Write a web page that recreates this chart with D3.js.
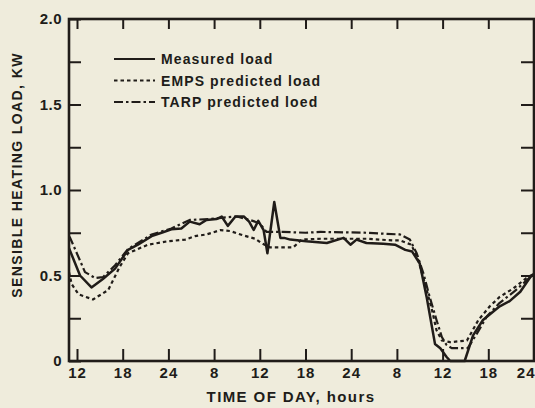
<!DOCTYPE html>
<html>
<head>
<meta charset="utf-8">
<script src="https://cdn.jsdelivr.net/npm/d3@7"></script>
<style>
  html, body { margin: 0; padding: 0; background: #efecdc; }
  svg { display: block; }
  text { font-family: "Liberation Sans", Arial, Helvetica, sans-serif; font-weight: bold; fill: #201c19; }
</style>
</head>
<body>
<svg id="chart" width="535" height="408"></svg>
<script>
// Hours elapsed from the first labelled tick (hour 12 of the first day)
const tickHours = [0, 6, 12, 18, 24, 30, 36, 42, 48, 54, 60];
const tickLabels = ["12", "18", "24", "8", "12", "18", "24", "8", "12", "18", "24"];
const yMajor = [0, 0.5, 1.0, 1.5, 2.0];
const yMajorLabels = ["0", "0.5", "1.0", "1.5", "2.0"];
const yMinor = [0.25, 0.75, 1.25, 1.75];

// Measured sensible heating load, kW: [hours, load]
const measuredLoad = [
  [-1.05, 0.66], [0.4, 0.50], [1.9, 0.43], [3.4, 0.48], [5.0, 0.54], [6.7, 0.65],
  [8.0, 0.68], [9.8, 0.73], [11.1, 0.75], [12.4, 0.77], [13.7, 0.775], [14.8, 0.815],
  [16.1, 0.80], [17.0, 0.825], [18.3, 0.83], [19.0, 0.845], [19.8, 0.79], [20.8, 0.845],
  [21.9, 0.845], [22.6, 0.815], [23.2, 0.766], [23.8, 0.82], [24.5, 0.766], [25.0, 0.63],
  [25.9, 0.93], [26.7, 0.72], [27.2, 0.72], [28.0, 0.71], [30.1, 0.70], [32.8, 0.69],
  [35.0, 0.72], [35.9, 0.68], [36.7, 0.71], [38.0, 0.69], [40.2, 0.685], [41.75, 0.68],
  [43.1, 0.65], [44.0, 0.64], [45.0, 0.57], [45.9, 0.375], [46.6, 0.20], [47.0, 0.10],
  [47.7, 0.075], [48.5, 0.025], [49.0, 0], [50.9, 0], [52.0, 0.15], [53.3, 0.24],
  [55.5, 0.32], [56.8, 0.35], [58.2, 0.405], [59.5, 0.49], [60, 0.51]
];

// EMPS predicted load, kW
const empsLoad = [
  [-1.05, 0.52], [-0.7, 0.45], [0.2, 0.39], [2.1, 0.36], [4.1, 0.415], [5.6, 0.55],
  [6.7, 0.63], [9.3, 0.68], [11.9, 0.70], [14.2, 0.71], [15.5, 0.73], [17.0, 0.74],
  [18.8, 0.765], [20.1, 0.76], [21.8, 0.735], [23.4, 0.715], [24.2, 0.69], [25.3, 0.665],
  [28.4, 0.665], [29.5, 0.71], [32.0, 0.715], [38.0, 0.715], [41.5, 0.705], [42.4, 0.705],
  [43.9, 0.68], [44.8, 0.59], [45.7, 0.45], [46.6, 0.30], [47.2, 0.18], [47.9, 0.12],
  [49.0, 0.11], [51.2, 0.12], [52.7, 0.24], [54.2, 0.32], [55.5, 0.375], [57.3, 0.425],
  [59.0, 0.485], [60, 0.51]
];

// TARP predicted load, kW
const tarpLoad = [
  [-1.05, 0.73], [-0.9, 0.72], [1.05, 0.52], [2.4, 0.485], [3.4, 0.49], [5.0, 0.56],
  [6.7, 0.655], [8.0, 0.69], [9.8, 0.74], [12.4, 0.775], [14.8, 0.825], [17.5, 0.83],
  [19.5, 0.84], [21.0, 0.845], [22.7, 0.825], [24.0, 0.805], [24.7, 0.765], [24.9, 0.755],
  [27.0, 0.755], [30.0, 0.75], [32.0, 0.755], [38.0, 0.75], [40.0, 0.745], [42.4, 0.74],
  [43.7, 0.71], [44.6, 0.63], [45.5, 0.51], [46.3, 0.375], [47.2, 0.24], [47.9, 0.14],
  [48.5, 0.095], [49.2, 0.075], [51.3, 0.075], [52.5, 0.16], [53.8, 0.26], [55.5, 0.34],
  [57.5, 0.41], [59.5, 0.49], [60, 0.50]
];

const seriesNames = ["Measured load", "EMPS predicted load", "TARP predicted loed"];

const ink = "#201c19";
const svg = d3.select("#chart");
const plotLeft = 69, plotRight = 534, plotTop = 19, plotBottom = 361;

const x = d3.scaleLinear().domain([-1.05, 60]).range([plotLeft, plotRight]);
const y = d3.scaleLinear().domain([0, 2]).range([plotBottom, plotTop]);

const styles = [
  { dash: null, width: 2.5 },
  { dash: "3.5,3", width: 2.2 },
  { dash: "9,3,2.5,3", width: 2.2 }
];

// Data lines
const line = d3.line().x(d => x(d[0])).y(d => y(d[1]));
const plot = svg.append("g");
[measuredLoad, empsLoad, tarpLoad].forEach((data, i) => {
  plot.append("path")
    .datum(data)
    .attr("d", line)
    .attr("fill", "none")
    .attr("stroke", ink)
    .attr("stroke-width", styles[i].width)
    .attr("stroke-linejoin", "round")
    .attr("stroke-dasharray", styles[i].dash);
});

// Bottom axis: inward ticks with hour labels
const xAxis = svg.append("g")
  .attr("transform", `translate(0,${plotBottom})`)
  .call(d3.axisBottom(x).tickValues(tickHours).tickSize(-12).tickPadding(6)
    .tickFormat((d, i) => tickLabels[i]));
xAxis.select(".domain").remove();
xAxis.selectAll("line").attr("stroke", ink).attr("stroke-width", 2);
xAxis.selectAll("text").attr("font-size", 15).attr("letter-spacing", 1).attr("fill", ink);
// The last label sits at the window edge; anchor it at its end so it stays whole
xAxis.selectAll("text").filter((d, i) => i === tickHours.length - 1)
  .attr("text-anchor", "end").attr("x", 1);

// Top axis: ticks only
const xTop = svg.append("g")
  .attr("transform", `translate(0,${plotTop})`)
  .call(d3.axisTop(x).tickValues(tickHours.slice(0, -1)).tickSize(-10).tickFormat(""));
xTop.select(".domain").remove();
xTop.selectAll("line").attr("stroke", ink).attr("stroke-width", 2);

// Left axis: labelled majors and unlabelled minors
const yAxis = svg.append("g")
  .attr("transform", `translate(${plotLeft},0)`)
  .call(d3.axisLeft(y).tickValues(yMajor).tickSize(-12).tickPadding(7)
    .tickFormat((d, i) => yMajorLabels[i]));
yAxis.select(".domain").remove();
yAxis.selectAll("line").attr("stroke", ink).attr("stroke-width", 2);
yAxis.selectAll("text").attr("font-size", 15).attr("letter-spacing", 0.5).attr("fill", ink);

const yMinorAxis = svg.append("g")
  .attr("transform", `translate(${plotLeft},0)`)
  .call(d3.axisLeft(y).tickValues(yMinor).tickSize(-12).tickFormat(""));
yMinorAxis.select(".domain").remove();
yMinorAxis.selectAll("line").attr("stroke", ink).attr("stroke-width", 2);

// Right axis: ticks every 0.25
const yRight = svg.append("g")
  .attr("transform", `translate(${plotRight},0)`)
  .call(d3.axisRight(y).tickValues(yMinor.concat([0.5, 1.0, 1.5])).tickSize(-13).tickFormat(""));
yRight.select(".domain").remove();
yRight.selectAll("line").attr("stroke", ink).attr("stroke-width", 2);

// Plot frame
svg.append("rect")
  .attr("x", plotLeft).attr("y", plotTop)
  .attr("width", plotRight - plotLeft).attr("height", plotBottom - plotTop)
  .attr("fill", "none").attr("stroke", ink).attr("stroke-width", 2.6);

// Legend
const legend = svg.append("g").attr("transform", "translate(114,59)");
seriesNames.forEach((name, i) => {
  const g = legend.append("g").attr("transform", `translate(0,${i * 21.5})`);
  g.append("line")
    .attr("x1", 0).attr("x2", 41).attr("y1", 0).attr("y2", 0)
    .attr("stroke", ink).attr("stroke-width", 2.2)
    .attr("stroke-dasharray", styles[i].dash);
  g.append("text")
    .attr("x", 47).attr("y", 0).attr("dy", "0.36em")
    .attr("font-size", 14).attr("letter-spacing", 1.1)
    .text(name);
});

// Axis titles
svg.append("text")
  .attr("x", 291).attr("y", 402)
  .attr("text-anchor", "middle")
  .attr("font-size", 15).attr("letter-spacing", 1.4)
  .text("TIME OF DAY, hours");

svg.append("text")
  .attr("transform", "translate(22,175) rotate(-90)")
  .attr("text-anchor", "middle")
  .attr("font-size", 14).attr("letter-spacing", 1.4)
  .text("SENSIBLE HEATING LOAD, KW");
</script>
</body>
</html>
